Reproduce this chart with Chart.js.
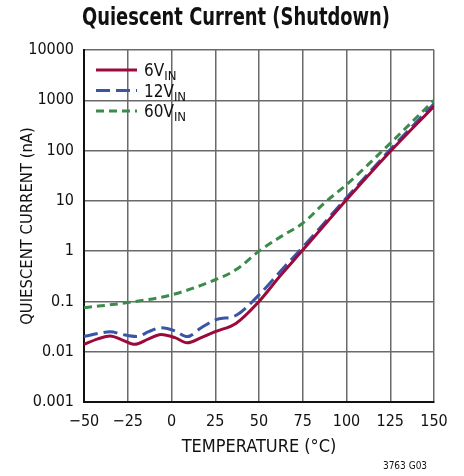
<!DOCTYPE html>
<html>
<head>
<meta charset="utf-8">
<script src="https://cdn.jsdelivr.net/npm/chart.js@4/dist/chart.umd.min.js"></script>
<style>
  html, body { margin: 0; padding: 0; background: #fff; }
  #wrap { width: 464px; height: 476px; position: relative; }
</style>
</head>
<body>
<div id="wrap"><canvas id="myChart" width="464" height="476"></canvas></div>
<script>
// Du lieu doc tu hinh
var temps6 = [-50, -42, -35, -28, -21, -13, -6, 2, 9, 17, 25, 37, 50, 62, 75, 100, 125, 150];
var current6 = [0.014, 0.018, 0.0205, 0.017, 0.014, 0.018, 0.022, 0.019, 0.015, 0.019, 0.025, 0.037, 0.1, 0.32, 1.05, 10.5, 96, 760];

var temps12 = [-50, -42, -35, -28, -20, -13, -6, 2, 9, 17, 25, 37, 50, 62, 75, 100, 125, 150];
var current12 = [0.020, 0.023, 0.025, 0.022, 0.020, 0.025, 0.030, 0.026, 0.020, 0.030, 0.043, 0.053, 0.135, 0.39, 1.2, 11.5, 105, 850];

var temps60 = [-50, -25, 0, 25, 37, 50, 62, 75, 88, 100, 125, 150];
var current60 = [0.075, 0.095, 0.135, 0.27, 0.43, 1.0, 1.9, 3.6, 9.5, 21, 140, 1000];

var xTicks = [-50, -25, 0, 25, 50, 75, 100, 125, 150];
var yTicks = [0.001, 0.01, 0.1, 1, 10, 100, 1000, 10000];
var yTickLabels = ['0.001', '0.01', '0.1', '1', '10', '100', '1000', '10000'];

var seriesNames = ['6V', '12V', '60V'];
var seriesColors = ['#9c0a3c', '#3a55a6', '#3b8b4b'];
var seriesDashes = [[], [14, 6], [8, 5]];

var FONT = "'Liberation Sans Narrow', 'DejaVu Sans Condensed', 'Liberation Sans', sans-serif";

function toPoints(xs, ys) {
    return xs.map(function (x, i) {
        return { x: x, y: ys[i] };
    });
}

// Ve chu thich, tieu de va ma hinh
var extras = {
    id: 'extras',
    afterDraw: function (chart) {
        var ctx = chart.ctx;
        ctx.save();
        // tieu de (nen ngang cho giong chu hep)
        ctx.fillStyle = '#111';
        ctx.font = "bold 24px " + FONT;
        ctx.textAlign = 'center';
        ctx.textBaseline = 'middle';
        var tw = ctx.measureText('Quiescent Current (Shutdown)').width;
        var sx = 308 / tw;
        ctx.save();
        ctx.translate(236, 19);
        ctx.scale(sx, 1);
        ctx.fillText('Quiescent Current (Shutdown)', 0, 0);
        ctx.restore();

        // chu thich
        for (var i = 0; i < seriesNames.length; i++) {
            var y = 70 + i * 20.5;
            ctx.strokeStyle = seriesColors[i];
            ctx.lineWidth = 3;
            ctx.setLineDash(seriesDashes[i]);
            ctx.beginPath();
            ctx.moveTo(96, y);
            ctx.lineTo(137, y);
            ctx.stroke();
            ctx.setLineDash([]);
            ctx.fillStyle = '#111';
            ctx.textAlign = 'left';
            ctx.textBaseline = 'alphabetic';
            ctx.font = "17px " + FONT;
            var label = seriesNames[i];
            var lx = 144;
            ctx.fillText(label, lx, y + 6);
            var w = ctx.measureText(label).width;
            ctx.font = "13px " + FONT;
            ctx.fillText('IN', lx + w, y + 10);
        }

        // ma hinh
        ctx.font = "10px " + FONT;
        ctx.textAlign = 'center';
        ctx.fillText('3763 G03', 405, 469);
        ctx.restore();
    }
};

var ctx = document.getElementById('myChart').getContext('2d');
var myChart = new Chart(ctx, {
    type: 'line',
    data: {
        datasets: [0, 1, 2].map(function (i) {
            var xs = [temps6, temps12, temps60][i];
            var ys = [current6, current12, current60][i];
            return {
                label: seriesNames[i],
                data: toPoints(xs, ys),
                borderColor: seriesColors[i],
                borderWidth: 3,
                borderDash: seriesDashes[i],
                pointRadius: 0,
                fill: false,
                cubicInterpolationMode: 'monotone'
            };
        })
    },
    options: {
        responsive: false,
        animation: false,
        layout: { padding: { top: 50, right: 30, left: 14, bottom: 14 } },
        scales: {
            x: {
                type: 'linear',
                min: -50,
                max: 150,
                afterBuildTicks: function (scale) {
                    scale.ticks = xTicks.map(function (v) { return { value: v }; });
                },
                afterFit: function (scale) { scale.height = 60; },
                ticks: {
                    color: '#111',
                    font: { family: FONT, size: 16 },
                    padding: 10,
                    maxRotation: 0,
                    callback: function (v) { return v < 0 ? '\u2212' + Math.abs(v) : String(v); }
                },
                grid: { color: '#6a6a6a', lineWidth: 1.5, drawTicks: false },
                border: { color: '#111', width: 2 },
                title: {
                    display: true,
                    text: 'TEMPERATURE (°C)',
                    color: '#111',
                    font: { family: FONT, size: 18 },
                    padding: { top: 4 }
                }
            },
            y: {
                type: 'logarithmic',
                min: 0.001,
                max: 10000,
                afterBuildTicks: function (scale) {
                    scale.ticks = yTicks.map(function (v) { return { value: v }; });
                },
                afterFit: function (scale) { scale.width = 70; },
                ticks: {
                    color: '#111',
                    font: { family: FONT, size: 16 },
                    padding: 10,
                    callback: function (v) {
                        var k = yTicks.indexOf(v);
                        return k >= 0 ? yTickLabels[k] : '';
                    }
                },
                grid: { color: '#6a6a6a', lineWidth: 1.5, drawTicks: false },
                border: { color: '#111', width: 2 },
                title: {
                    display: true,
                    text: 'QUIESCENT CURRENT (nA)',
                    color: '#111',
                    font: { family: FONT, size: 16.5 },
                    padding: { bottom: 2 }
                }
            }
        },
        plugins: {
            legend: { display: false },
            tooltip: { enabled: false }
        }
    },
    plugins: [extras]
});
</script>
</body>
</html>
